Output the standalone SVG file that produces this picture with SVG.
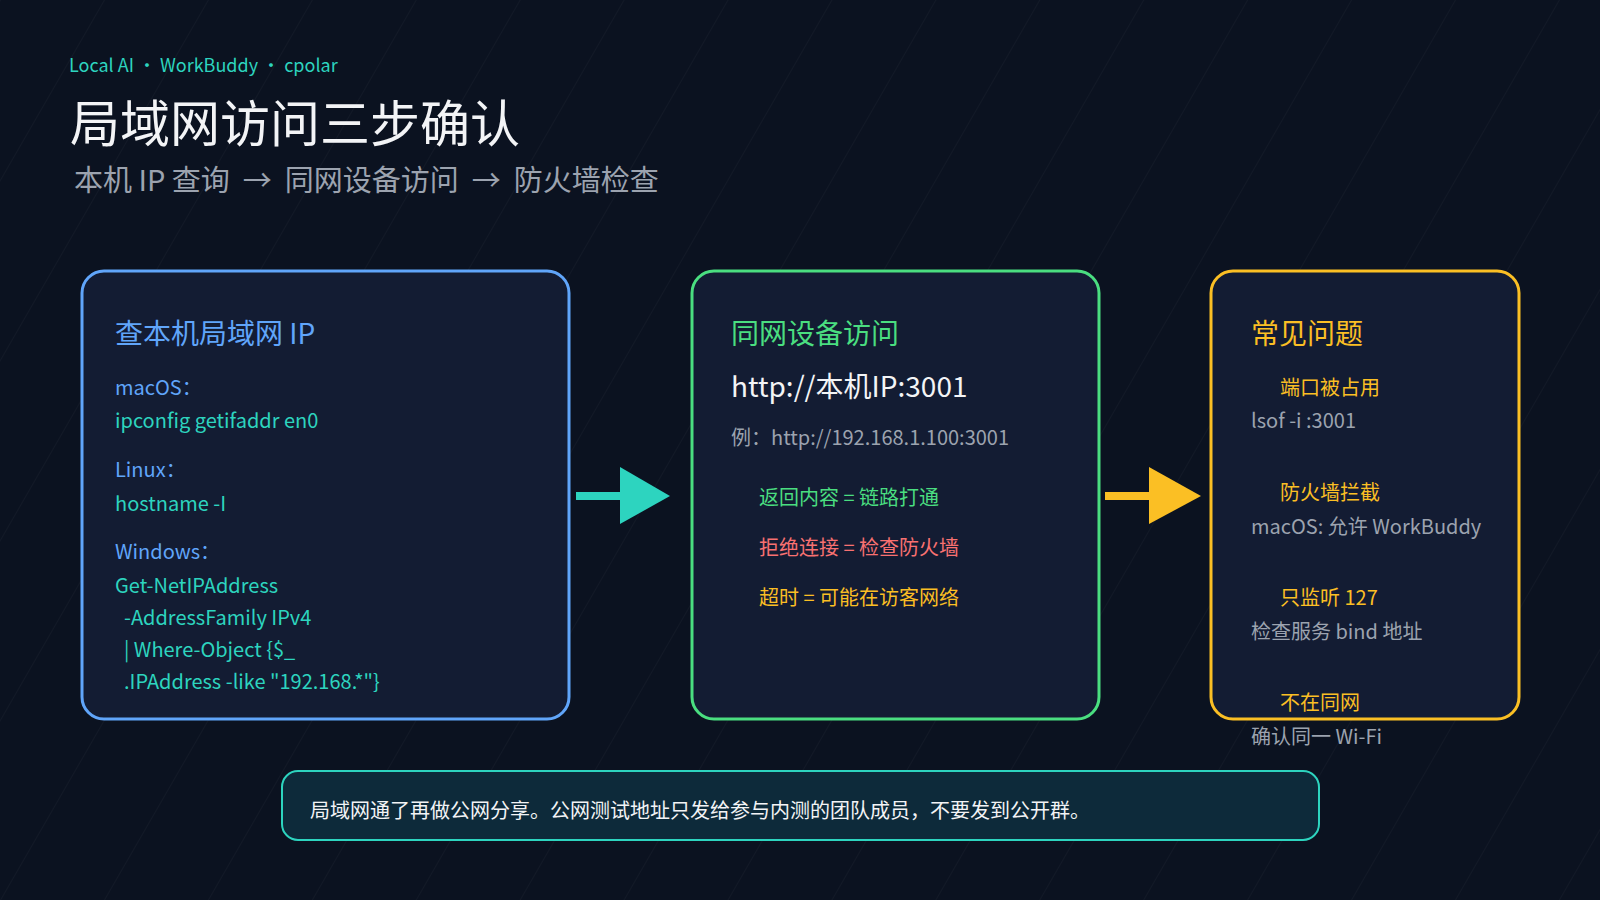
<svg xmlns="http://www.w3.org/2000/svg" width="1600" height="900" viewBox="0 0 1600 900">
<defs>
<pattern id="diag" width="90" height="90" patternUnits="userSpaceOnUse" patternTransform="rotate(30)">
<line x1="0" y1="0" x2="0" y2="90" stroke="#ffffff" stroke-opacity="0.04" stroke-width="1.5"/>
</pattern>
<style>
text{font-family:"Noto Sans CJK SC","Noto Sans",sans-serif;dominant-baseline:central}
.box{fill:#131c33;stroke-width:3}
.s20{font-size:20px}
.h{font-size:28px}
.blue{fill:#60a5fa}.teal{fill:#2dd4bf}.green{fill:#4ade80}.yel{fill:#fbbf24}.red{fill:#f87171}.gray{fill:#9ca3af}.white{fill:#f3f4f6}
</style>
</defs>
<rect width="1600" height="900" fill="#0b1220"/>
<rect width="1600" height="900" fill="url(#diag)"/>
<text x="69" y="64" class="teal" font-size="18">Local AI · WorkBuddy · cpolar</text>
<text x="70" y="120" class="white" font-size="50">局域网访问三步确认</text>
<text x="74" y="178" class="gray" font-size="29" xml:space="preserve">本机 IP 查询  →  同网设备访问  →  防火墙检查</text>
<g id="node-ip">
<rect class="box" x="82" y="271" width="487" height="448" rx="22" stroke="#60a5fa"/>
<text x="115" y="332" class="h blue">查本机局域网 IP</text>
<text x="115" y="386" class="s20 blue">macOS：</text>
<text x="115" y="419" class="s20 teal">ipconfig getifaddr en0</text>
<text x="115" y="468" class="s20 blue">Linux：</text>
<text x="115" y="502" class="s20 teal">hostname -I</text>
<text x="115" y="550" class="s20 blue">Windows：</text>
<text x="115" y="584" class="s20 teal">Get-NetIPAddress</text>
<text x="115" y="616" class="s20 teal" xml:space="preserve">  -AddressFamily IPv4</text>
<text x="115" y="648" class="s20 teal" xml:space="preserve">  | Where-Object {$_</text>
<text x="115" y="680" class="s20 teal" xml:space="preserve">  .IPAddress -like "192.168.*"}</text>
</g>
<g id="node-access">
<rect class="box" x="692" y="271" width="407" height="448" rx="22" stroke="#4ade80"/>
<text x="731" y="332" class="h green">同网设备访问</text>
<text x="731" y="385" class="white" font-size="28">http://本机IP:3001</text>
<text x="731" y="436" class="s20 gray">例：http://192.168.1.100:3001</text>
<text x="759" y="496" class="s20 green">返回内容 = 链路打通</text>
<text x="759" y="546" class="s20 red">拒绝连接 = 检查防火墙</text>
<text x="759" y="596" class="s20 yel">超时 = 可能在访客网络</text>
</g>
<g id="node-issues">
<rect class="box" x="1211" y="271" width="308" height="448" rx="22" stroke="#fbbf24"/>
<text x="1251" y="332" class="h yel">常见问题</text>
<text x="1280" y="386" class="s20 yel">端口被占用</text>
<text x="1251" y="419" class="s20 gray">lsof -i :3001</text>
<text x="1280" y="491" class="s20 yel">防火墙拦截</text>
<text x="1251" y="525" class="s20 gray">macOS: 允许 WorkBuddy</text>
<text x="1280" y="596" class="s20 yel">只监听 127</text>
<text x="1251" y="630" class="s20 gray">检查服务 bind 地址</text>
<text x="1280" y="701" class="s20 yel">不在同网</text>
<text x="1251" y="735" class="s20 gray">确认同一 Wi-Fi</text>
</g>
<g id="connectors">
<line x1="576" y1="496" x2="624" y2="496" stroke="#2dd4bf" stroke-width="8"/>
<polygon points="620,467 670,496 620,524" fill="#2dd4bf"/>
<line x1="1105" y1="496" x2="1153" y2="496" stroke="#fbbf24" stroke-width="8"/>
<polygon points="1149,467 1201,496 1149,524" fill="#fbbf24"/>
</g>
<g id="note">
<rect x="282" y="771" width="1037" height="69" rx="16" fill="#0d2a3a" stroke="#2dd4bf" stroke-width="2"/>
<text x="310" y="809" class="s20 white">局域网通了再做公网分享。公网测试地址只发给参与内测的团队成员，不要发到公开群。</text>
</g>
</svg>
